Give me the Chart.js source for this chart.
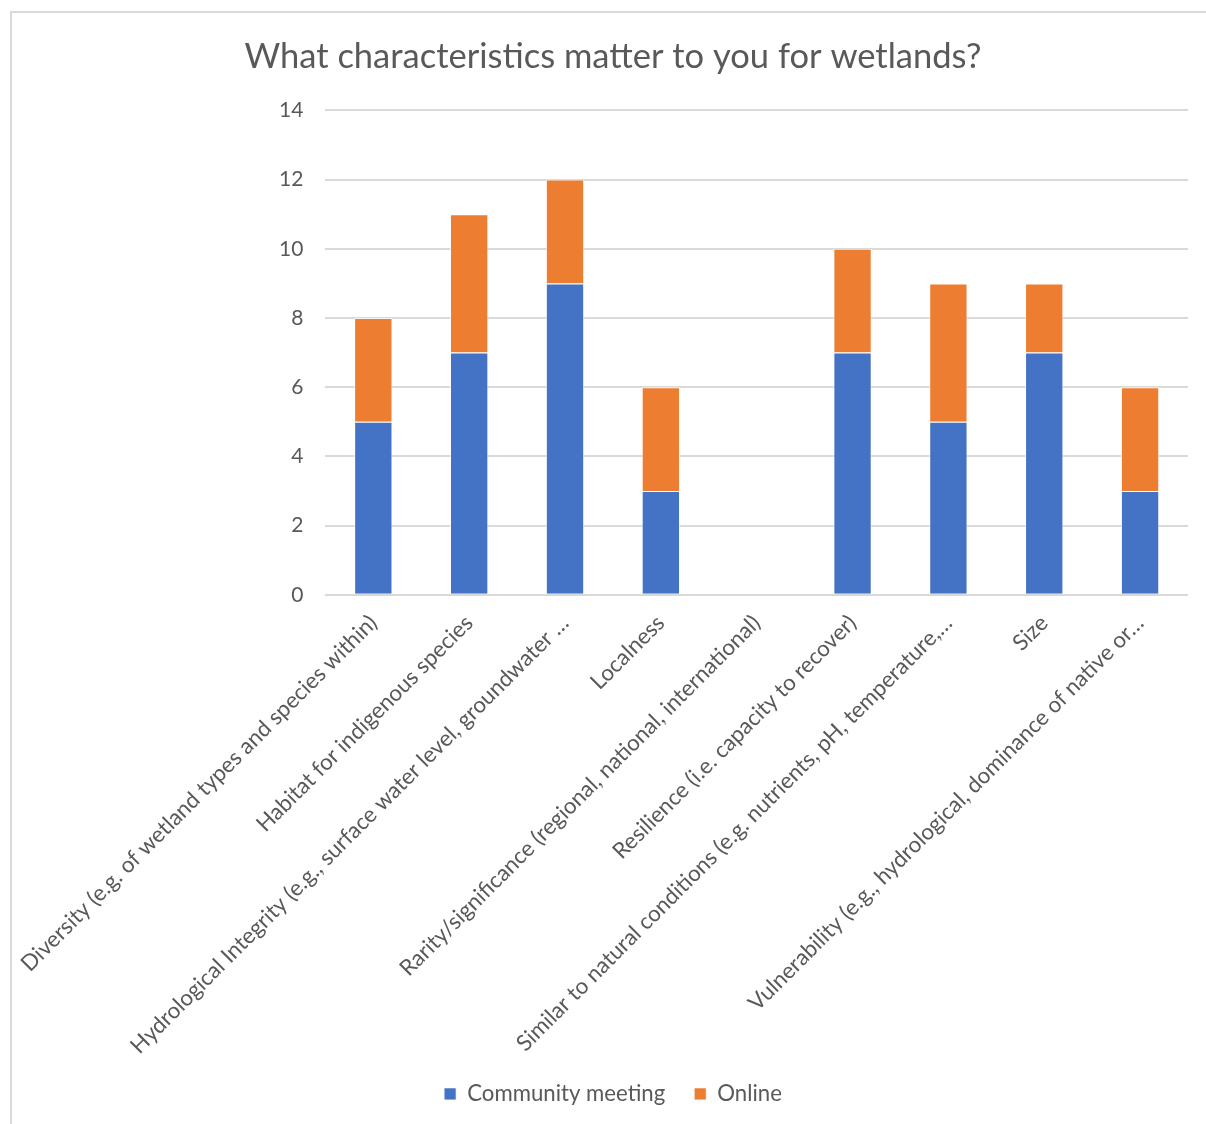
<!DOCTYPE html>
<html>
<head>
<meta charset="utf-8">
<script src="https://cdn.jsdelivr.net/npm/chart.js@4.4.1/dist/chart.umd.min.js"></script>
<style>
  html, body { margin: 0; padding: 0; background: #ffffff; overflow: hidden; }
  #wrap { position: relative; width: 1206px; height: 1124px; }
  #frame { position: absolute; left: 10px; top: 11px; width: 1300px; height: 1300px;
           border: 2px solid #d9d9d9; box-sizing: border-box; }
  #c { position: absolute; left: 0; top: 0; }
</style>
</head>
<body>
<div id="wrap">
  <div id="frame"></div>
  <canvas id="c" width="1206" height="1124"></canvas>
</div>
<script>
// Survey answers per characteristic, split by where they were collected
const categories = [
  "Diversity (e.g. of wetland types and species within)",
  "Habitat for indigenous species",
  "Hydrological Integrity (e.g., surface water level, groundwater …",
  "Localness",
  "Rarity/significance (regional, national, international)",
  "Resilience (i.e. capacity to recover)",
  "Similar to natural conditions (e.g. nutrients, pH, temperature,…",
  "Size",
  "Vulnerability (e.g., hydrological, dominance of native or…"
];
const communityMeeting = [5, 7, 9, 3, 0, 7, 5, 7, 3];
const online = [3, 4, 3, 3, 0, 3, 4, 2, 3];
const yTicks = [0, 2, 4, 6, 8, 10, 12, 14];

const FONT = "Lato, 'Open Sans', sans-serif";
const TEXT = "#595959";
const GRID = "#d9d9d9";

new Chart(document.getElementById("c"), {
  type: "bar",
  data: {
    labels: categories,
    datasets: [
      { label: "Community meeting", data: communityMeeting, backgroundColor: "#4472C4",
        borderColor: "rgba(255,255,255,0.7)", borderWidth: 1 },
      { label: "Online", data: online, backgroundColor: "#ED7D31",
        borderColor: "rgba(255,255,255,0.7)", borderWidth: 1 }
    ]
  },
  options: {
    responsive: false,
    animation: false,
    devicePixelRatio: 1,
    layout: { padding: { left: 38, right: 18, top: 0, bottom: 9 } },
    datasets: { bar: { categoryPercentage: 0.4, barPercentage: 1.0 } },
    plugins: {
      title: {
        display: true,
        text: "What characteristics matter to you for wetlands?",
        color: TEXT,
        font: { family: FONT, size: 34.5, weight: "normal" },
        padding: { top: 36, bottom: 33 }
      },
      legend: {
        position: "bottom",
        labels: {
          color: TEXT,
          font: { family: FONT, size: 22.2 },
          boxWidth: 12, boxHeight: 12,
          padding: 29
        }
      },
      tooltip: { enabled: false }
    },
    scales: {
      x: {
        stacked: true,
        grid: { display: false },
        border: { display: false },
        ticks: {
          color: TEXT,
          font: { family: FONT, size: 22.3 },
          autoSkip: false,
          minRotation: 45, maxRotation: 45,
          padding: 7
        },
        afterFit: (s) => { s.height = 459; }
      },
      y: {
        stacked: true,
        min: 0, max: 14,
        afterBuildTicks: (s) => { s.ticks = yTicks.map(v => ({ value: v })); },
        grid: { color: GRID, lineWidth: 2, drawTicks: false },
        border: { display: false },
        ticks: {
          color: TEXT,
          font: { family: FONT, size: 21 },
          padding: 22
        },
        afterFit: (s) => { s.width = 285; }
      }
    }
  }
});
</script>
</body>
</html>
